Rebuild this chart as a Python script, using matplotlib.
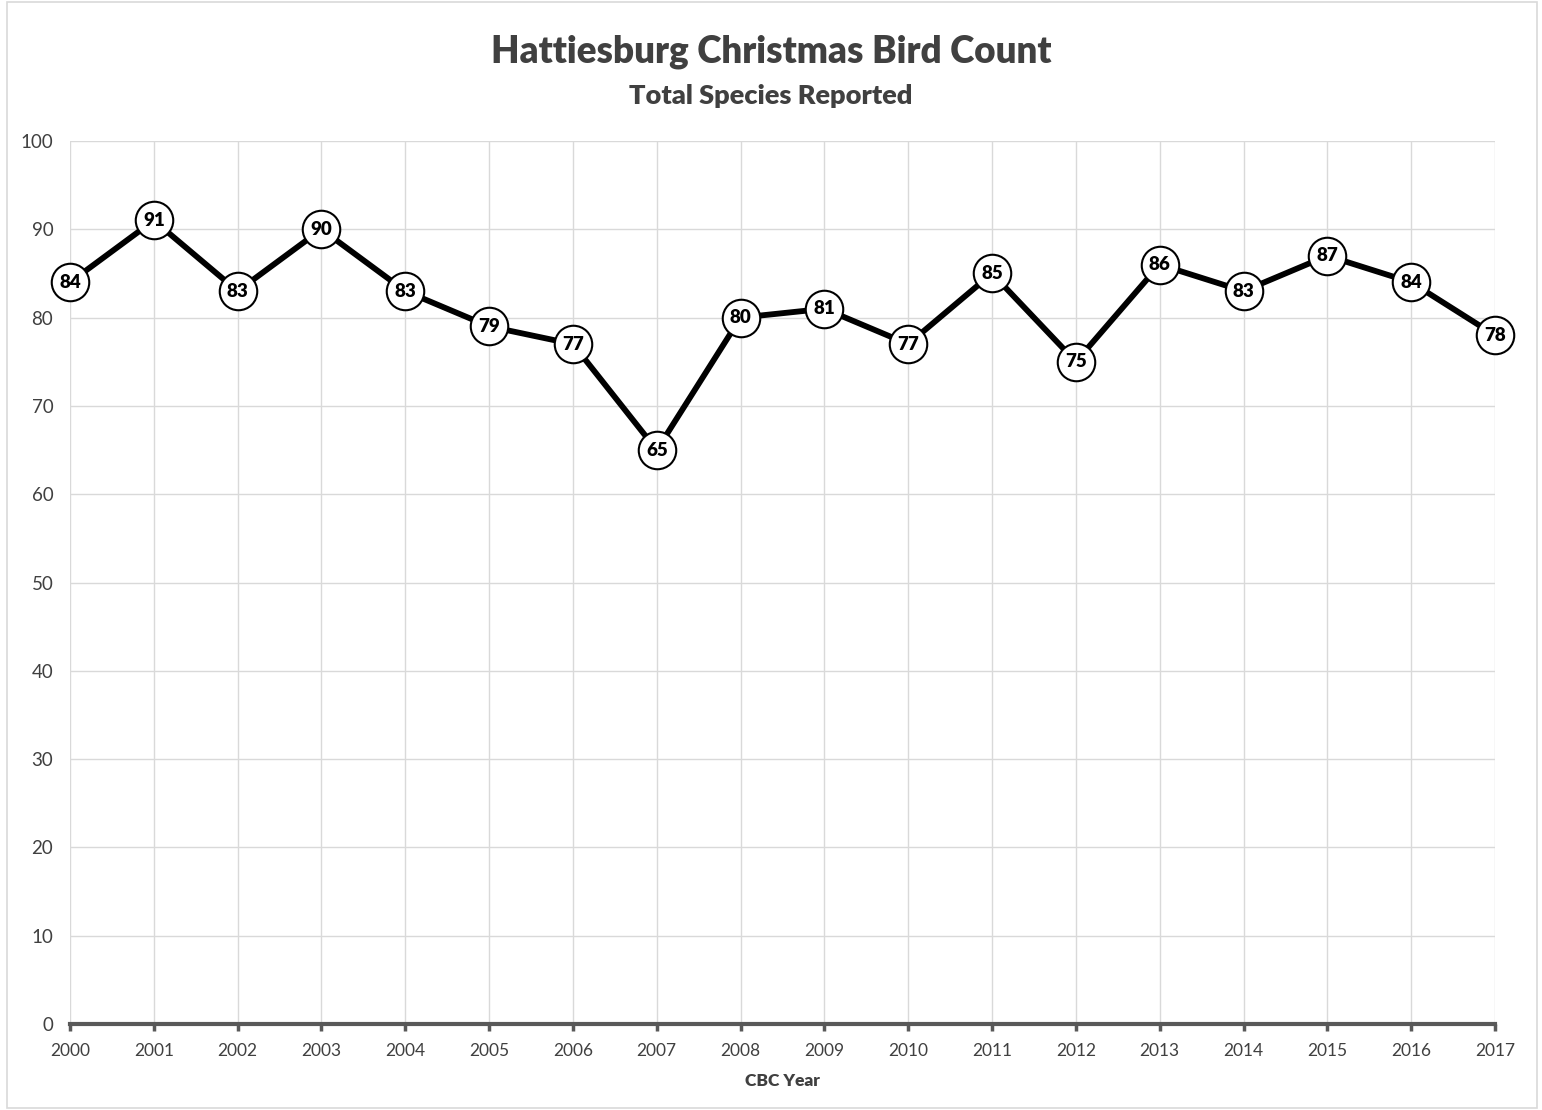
import matplotlib.pyplot as plt
from matplotlib.patches import Rectangle

years = list(range(2000, 2018))
species = [84, 91, 83, 90, 83, 79, 77, 65, 80, 81, 77, 85, 75, 86, 83, 87, 84, 78]

plt.rcParams['font.family'] = ['Lato', 'DejaVu Sans']

fig = plt.figure(figsize=(15.42, 11.10), dpi=100)
ax = fig.add_axes([70 / 1542, 1 - 1024 / 1110, 1425 / 1542, 883 / 1110])

# chart border
fig.patches.append(Rectangle((7 / 1542, 2 / 1110), 1530 / 1542, 1106 / 1110,
                             transform=fig.transFigure, fill=False,
                             edgecolor='#d9d9d9', linewidth=1.2))

ax.plot(years, species, color='black', linewidth=4.2, zorder=3, clip_on=False,
        marker='o', markersize=27, markerfacecolor='white',
        markeredgecolor='black', markeredgewidth=1.5)
for x, y in zip(years, species):
    ax.text(x, y, str(y), ha='center', va='center', fontsize=13.5,
            fontweight='heavy', color='black', zorder=4)

ax.set_xlim(2000, 2017)
ax.set_ylim(0, 100)
ax.set_xticks(years)
ax.set_yticks(range(0, 101, 10))
ax.grid(True, color='#d9d9d9', linewidth=1)
ax.set_axisbelow(True)
for s in ['top', 'right', 'left']:
    ax.spines[s].set_visible(False)
ax.spines['bottom'].set_color('#595959')
ax.spines['bottom'].set_linewidth(3)
ax.spines['bottom'].set_zorder(2)
ax.tick_params(axis='x', colors='#595959', labelsize=12.5, length=5, width=2.5,
               pad=9, labelcolor='#404040')
ax.tick_params(axis='y', length=0, pad=12, labelsize=13.5, labelcolor='#404040')
ax.set_xlabel('CBC Year', fontsize=12.5, fontweight='heavy', color='#404040', labelpad=10)

fig.text(0.5, 1 - 52 / 1110, 'Hattiesburg Christmas Bird Count', ha='center',
         va='center', fontsize=26.5, fontweight='heavy', color='#404040')
fig.text(0.5, 1 - 96 / 1110, 'Total Species Reported', ha='center',
         va='center', fontsize=19.5, fontweight='heavy', color='#404040')

fig.savefig('out.png', dpi=100)
